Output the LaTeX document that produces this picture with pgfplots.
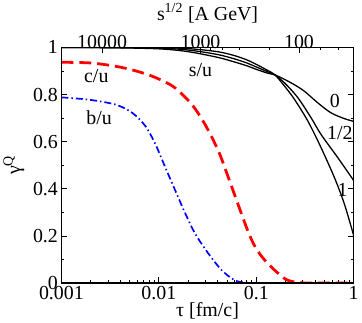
\documentclass[border=0pt]{standalone}
\usepackage{fontspec}
\setmainfont{Liberation Serif}
\usepackage{pgfplots}
\pgfplotsset{compat=1.18}

% gamma_Q vs tau
\pgfplotstableread{
tau g
0.001 1.000
0.003 0.999
0.01 0.994
0.02 0.982
0.04 0.958
0.06 0.938
0.08 0.922
0.1 0.907
0.13 0.891
0.156 0.883
0.2 0.862
0.25 0.840
0.314 0.813
0.43 0.764
0.587 0.722
0.8 0.698
1 0.686
}\szero
\pgfplotstableread{
tau g
0.001 1.000
0.003 0.999
0.01 0.997
0.02 0.989
0.04 0.970
0.06 0.951
0.08 0.934
0.1 0.917
0.13 0.897
0.156 0.883
0.2 0.845
0.269 0.785
0.367 0.700
0.463 0.630
0.687 0.532
1 0.435
}\shalf
\pgfplotstableread{
tau g
0.001 1.000
0.003 1.000
0.01 0.999
0.02 0.995
0.04 0.982
0.06 0.965
0.08 0.947
0.1 0.928
0.13 0.903
0.156 0.883
0.2 0.830
0.248 0.778
0.34 0.686
0.463 0.574
0.635 0.447
0.803 0.335
1 0.201
}\sone
\pgfplotstableread{
tau g
0.001 0.937
0.002 0.934
0.0036 0.920
0.0055 0.903
0.0079 0.883
0.011 0.858
0.0148 0.827
0.0219 0.757
0.0299 0.672
0.0409 0.560
0.0518 0.447
0.0655 0.330
0.083 0.215
0.097 0.155
0.115 0.110
0.143 0.068
0.18 0.030
0.21 0.012
0.26 0.003
0.35 0.0
1 0.0
}\charm
\pgfplotstableread{
tau g
0.001 0.788
0.00193 0.778
0.00362 0.757
0.00535 0.722
0.00731 0.665
0.00925 0.588
0.0117 0.489
0.0148 0.391
0.0187 0.295
0.0237 0.208
0.0324 0.124
0.0443 0.054
0.0606 0.011
0.08 0.002
0.12 0.0
1 0.0
}\bottom

\begin{document}
\begin{tikzpicture}
\pgfplotsset{
  every axis/.append style={
    width=294pt, height=237pt, scale only axis,
    ymin=0, ymax=1,
    tick align=inside,
    major tick length=6pt, minor tick length=3pt,
    axis line style={line width=1.1pt},
    every tick/.style={black, line width=0.8pt},
    tick label style={font=\fontsize{20}{24}\selectfont},
    label style={font=\fontsize{20}{24}\selectfont},
  },
}
\begin{axis}[
  xmode=log, xmin=0.001, xmax=1,
  xtick={0.001,0.01,0.1,1}, xticklabels={0.001,0.01,0.1,1},
  xtick pos=left,
  ytick={0,0.2,0.4,0.6,0.8,1}, yticklabels={0,0.2,0.4,0.6,0.8,1},
  minor ytick={0.1,0.3,0.5,0.7,0.9},
  ytick pos=both, yticklabel pos=left,
  xlabel={τ [fm/c]},
  ylabel={γ\textsuperscript{Q}},
  xlabel style={yshift=4pt},
  ylabel style={yshift=2pt},
]
\addplot[black, line width=1.3pt, smooth] table {\szero};
\addplot[black, line width=1.3pt, smooth] table {\shalf};
\addplot[black, line width=1.3pt, smooth] table {\sone};
\addplot[red, line width=2.8pt, smooth, dash pattern=on 12pt off 6pt] table {\charm};
\addplot[blue, line width=1.7pt, smooth, dash pattern=on 7pt off 3pt on 1.5pt off 3pt] table {\bottom};
\node[font=\fontsize{20}{24}\selectfont] at (axis cs:0.0268,0.903) {s/u};
\node[font=\fontsize{20}{24}\selectfont] at (axis cs:0.00228,0.878) {c/u};
\node[font=\fontsize{20}{24}\selectfont] at (axis cs:0.00244,0.700) {b/u};
\node[font=\fontsize{20}{24}\selectfont] at (axis cs:0.64,0.772) {0};
\node[font=\fontsize{20}{24}\selectfont] at (axis cs:0.72,0.637) {1/2};
\node[font=\fontsize{20}{24}\selectfont] at (axis cs:0.77,0.397) {1};
\end{axis}
\begin{axis}[
  xmode=log, x dir=reverse, xmin=27.8, xmax=25900,
  xtick={100,1000,10000}, xticklabels={100,1000,10000},
  minor xtick={40,60,200,400,600,800,2000},
  xtick pos=right, xticklabel pos=right,
  xticklabel style={yshift=-5pt},
  ytick=\empty,
  xlabel={s\textsuperscript{1/2} [A GeV]},
  xlabel style={yshift=6pt},
]
\end{axis}
\end{tikzpicture}
\end{document}
